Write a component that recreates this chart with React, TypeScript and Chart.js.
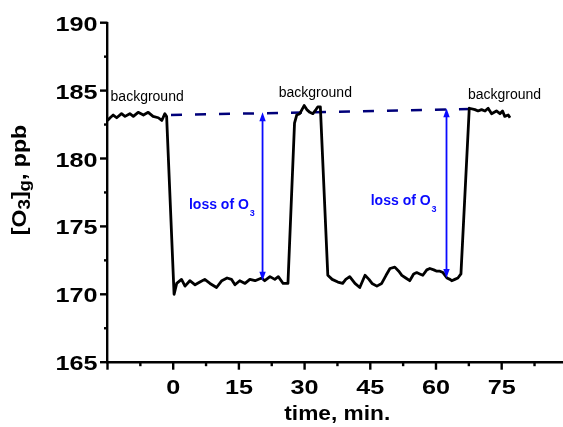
import React, { useEffect, useRef } from "react";
import { Chart, registerables } from "chart.js";

Chart.register(...registerables);

// Gas-phase ozone trace, ppb, against time in minutes
const timeMin = [
  -15.0, -14.4, -13.7, -12.9, -11.8, -11.0, -9.9, -9.1, -8.0, -6.8, -5.7, -4.6, -3.4, -2.6, -1.9, -1.5,
  0.2, 0.8, 1.9, 2.7, 3.8, 5.0, 6.1, 7.2, 8.4, 9.9, 11.1, 12.3, 13.3, 14.1, 15.2, 16.4, 17.5, 18.7,
  20.2, 20.9, 22.1, 23.2, 24.0, 25.1, 26.2,
  27.7, 28.2, 28.9, 29.9, 30.5, 31.2, 31.9, 32.6, 33.0, 33.6,
  35.3, 36.3, 37.6, 38.7, 39.4, 40.3, 41.5, 42.6, 43.8, 44.7, 45.4, 46.5, 47.6, 48.6, 49.5, 50.6,
  51.5, 52.2, 53.1, 54.0, 54.9, 55.6, 56.3, 57.0, 57.9, 58.6, 59.5, 60.2, 60.9, 61.6, 62.5, 63.2,
  63.6, 64.3, 65.0, 65.7,
  67.6, 68.9, 69.6, 70.4, 71.2, 71.9, 72.7, 73.8, 74.6, 75.2, 75.7, 76.5, 76.9,
];
const ozonePpb = [
  182.8, 183.0, 183.2, 183.0, 183.3, 183.1, 183.3, 183.1, 183.4, 183.2, 183.4, 183.1, 183.0, 182.8, 183.3, 183.1,
  170.0, 170.8, 171.1, 170.6, 171.0, 170.7, 170.9, 171.1, 170.8, 170.5, 171.0, 171.2, 171.1, 170.7, 171.0, 170.8, 171.1, 171.0,
  171.2, 171.0, 171.3, 171.1, 171.3, 170.8, 170.8,
  182.6, 183.2, 183.3, 183.9, 183.6, 183.4, 183.3, 183.6, 183.8, 183.8,
  171.4, 171.1, 170.9, 170.8, 171.1, 171.3, 170.8, 170.5, 171.4, 171.1, 170.8, 170.6, 170.8, 171.4, 171.9, 172.0,
  171.7, 171.4, 171.2, 171.0, 171.5, 171.6, 171.5, 171.4, 171.8, 171.9, 171.8, 171.7, 171.7, 171.6, 171.2, 171.1,
  171.0, 171.1, 171.2, 171.5,
  183.7, 183.6, 183.5, 183.6, 183.5, 183.7, 183.3, 183.5, 183.3, 183.5, 183.1, 183.2, 183.0,
];

// Background level drift (dashed reference line)
const baselineTime = [-0.5, 69.3];
const baselinePpb = [183.2, 183.65];

// Ozone-loss arrows
const lossArrowTime = [20.4, 62.4];
const lossArrowTop = [183.4, 183.7];
const lossArrowBottom = [171.0, 171.2];
const lossLabelTime = [3.6, 45.1];
const lossLabelPpb = [176.28, 176.6];

// "background" annotations
const backgroundLabelTime = [-14.3, 24.1, 67.3];
const backgroundLabelPpb = [184.25, 184.55, 184.4];

// Axis ticks
const xMajorTicks = [-15, 0, 15, 30, 45, 60, 75];
const xMinorTicks = [-7.5, 7.5, 22.5, 37.5, 52.5, 67.5, 82.5];
const xTickLabels = ["", "0", "15", "30", "45", "60", "75"];
const yMajorTicks = [165, 170, 175, 180, 185, 190];
const yMinorTicks = [167.5, 172.5, 177.5, 182.5, 187.5];
const yTickLabels = ["165", "170", "175", "180", "185", "190"];

const FONT = '"Liberation Sans", Arial, Helvetica, sans-serif';
const BLUE = "#0a0aff";
const NAVY = "#00007a";

const overlay = {
  id: "overlay",
  afterDatasetsDraw(chart: any) {
    const { ctx, scales } = chart;
    const x = scales.x;
    const y = scales.y;
    ctx.save();
    ctx.strokeStyle = BLUE;
    ctx.fillStyle = BLUE;
    lossArrowTime.forEach((t, i) => {
      const px = x.getPixelForValue(t);
      const top = y.getPixelForValue(lossArrowTop[i]);
      const bot = y.getPixelForValue(lossArrowBottom[i]);
      ctx.lineWidth = 1.8;
      ctx.beginPath();
      ctx.moveTo(px, top + 6);
      ctx.lineTo(px, bot - 6);
      ctx.stroke();
      ctx.beginPath();
      ctx.moveTo(px, top);
      ctx.lineTo(px - 3.2, top + 9);
      ctx.lineTo(px + 3.2, top + 9);
      ctx.closePath();
      ctx.fill();
      ctx.beginPath();
      ctx.moveTo(px, bot);
      ctx.lineTo(px - 3.2, bot - 9);
      ctx.lineTo(px + 3.2, bot - 9);
      ctx.closePath();
      ctx.fill();
    });

    // loss of O3 labels
    ctx.textAlign = "left";
    ctx.textBaseline = "alphabetic";
    lossLabelTime.forEach((t, i) => {
      const px = x.getPixelForValue(t);
      const py = y.getPixelForValue(lossLabelPpb[i]);
      ctx.font = `bold 14px ${FONT}`;
      const main = "loss of O";
      ctx.fillText(main, px, py);
      const w = ctx.measureText(main).width;
      ctx.font = `bold 9px ${FONT}`;
      ctx.fillText("3", px + w + 1, py + 7);
    });

    // background labels
    ctx.fillStyle = "#000";
    ctx.font = `14px ${FONT}`;
    backgroundLabelTime.forEach((t, i) => {
      ctx.fillText("background", x.getPixelForValue(t), y.getPixelForValue(backgroundLabelPpb[i]));
    });
    ctx.restore();
  },
  afterDraw(chart: any) {
    const { ctx, scales, chartArea } = chart;
    const x = scales.x;
    const y = scales.y;
    ctx.save();
    ctx.strokeStyle = "#000";
    ctx.fillStyle = "#000";
    ctx.lineWidth = 2.4;
    ctx.lineCap = "butt";

    const axisY = chartArea.bottom;
    const axisX = chartArea.left;

    // x tick marks
    const xTick = (v: number, len: number) => {
      const px = x.getPixelForValue(v);
      ctx.beginPath();
      ctx.moveTo(px, axisY);
      ctx.lineTo(px, axisY + len);
      ctx.stroke();
    };
    xMajorTicks.forEach((v) => xTick(v, 7.5));
    xMinorTicks.forEach((v) => xTick(v, 4));

    // y tick marks
    const yTick = (v: number, len: number) => {
      const py = y.getPixelForValue(v);
      ctx.beginPath();
      ctx.moveTo(axisX, py);
      ctx.lineTo(axisX - len, py);
      ctx.stroke();
    };
    yMajorTicks.forEach((v) => yTick(v, 7.5));
    yMinorTicks.forEach((v) => yTick(v, 3.5));

    // tick labels
    ctx.font = `bold 21px ${FONT}`;
    ctx.textBaseline = "alphabetic";
    xMajorTicks.forEach((v, i) => {
      const label = xTickLabels[i];
      if (!label) return;
      ctx.save();
      ctx.translate(x.getPixelForValue(v), axisY + 32);
      ctx.scale(1.2, 1);
      ctx.textAlign = "center";
      ctx.fillText(label, 0, 0);
      ctx.restore();
    });
    yMajorTicks.forEach((v, i) => {
      ctx.save();
      ctx.translate(axisX - 10, y.getPixelForValue(v) + 8);
      ctx.scale(1.2, 1);
      ctx.textAlign = "right";
      ctx.fillText(yTickLabels[i], 0, 0);
      ctx.restore();
    });

    // x title
    ctx.save();
    ctx.translate((chartArea.left + chartArea.right) / 2 + 2, 420);
    ctx.scale(1.08, 1);
    ctx.textAlign = "center";
    ctx.font = `bold 21px ${FONT}`;
    ctx.fillText("time, min.", 0, 0);
    ctx.restore();

    // y title with subscripts
    const segs = [
      { t: "[O", sub: false },
      { t: "3", sub: true },
      { t: "]", sub: false },
      { t: "g", sub: true },
      { t: ", ppb", sub: false },
    ];
    ctx.save();
    ctx.translate(26, 180);
    ctx.rotate(-Math.PI / 2);
    ctx.scale(1.1, 1);
    ctx.textAlign = "left";
    let total = 0;
    segs.forEach((s) => {
      ctx.font = `bold ${s.sub ? 17 : 21}px ${FONT}`;
      total += ctx.measureText(s.t).width;
    });
    let cx = -total / 2;
    segs.forEach((s) => {
      ctx.font = `bold ${s.sub ? 17 : 21}px ${FONT}`;
      ctx.fillText(s.t, cx, s.sub ? 4 : 0);
      cx += ctx.measureText(s.t).width;
    });
    ctx.restore();

    ctx.restore();
  },
};

export default function App() {
  const ref = useRef<HTMLCanvasElement>(null);

  useEffect(() => {
    const canvas = ref.current;
    if (!canvas) return;
    const chart = new Chart(canvas, {
      type: "line",
      data: {
        datasets: [
          {
            data: timeMin.map((t, i) => ({ x: t, y: ozonePpb[i] })),
            borderColor: "#000",
            borderWidth: 2.8,
            borderJoinStyle: "round",
            pointRadius: 0,
            tension: 0,
            fill: false,
          },
          {
            data: baselineTime.map((t, i) => ({ x: t, y: baselinePpb[i] })),
            borderColor: NAVY,
            borderWidth: 2.5,
            borderDash: [11, 13],
            pointRadius: 0,
            tension: 0,
            fill: false,
          },
        ],
      },
      options: {
        animation: false,
        responsive: false,
        events: [],
        layout: { padding: { top: 22.7, right: 0, bottom: 0, left: 0 } },
        plugins: { legend: { display: false }, tooltip: { enabled: false } },
        scales: {
          x: {
            type: "linear",
            min: -15,
            max: 89,
            afterFit: (s: any) => {
              s.height = 64.8;
            },
            grid: { display: false, drawTicks: false },
            border: { display: true, color: "#000", width: 2.4 },
            ticks: { display: false },
          },
          y: {
            type: "linear",
            min: 165,
            max: 190,
            afterFit: (s: any) => {
              s.width = 107.5;
            },
            grid: { display: false, drawTicks: false },
            border: { display: true, color: "#000", width: 2.4 },
            ticks: { display: false },
          },
        },
      } as any,
      plugins: [overlay],
    });
    return () => chart.destroy();
  }, []);

  return (
    <div style={{ position: "fixed", left: 0, top: 0, width: 563, height: 427, background: "#fff" }}>
      <canvas ref={ref} width={563} height={427} style={{ display: "block" }} />
    </div>
  );
}
